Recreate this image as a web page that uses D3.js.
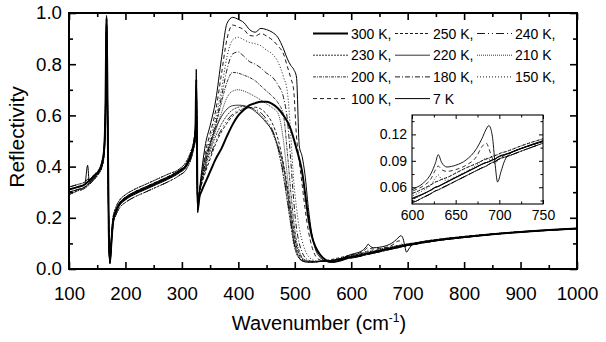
<!DOCTYPE html>
<html><head><meta charset="utf-8">
<script src="https://cdn.jsdelivr.net/npm/d3@7"></script>
<style>
html,body{margin:0;padding:0;background:#fff;}
svg{display:block;}
text{font-family:"Liberation Sans",Arial,Helvetica,sans-serif;fill:#000;}
</style></head>
<body><svg id="c" width="606" height="342"></svg>
<script>
// ---------- data ----------
const xLow = [100,115,128,133,136,145,152,158,162,164.5,166.5,168.5,170.5,172.5,175,178,183,190,200,215,235,255,275,295,308,316,321,324,325.5,328];
const lowA = [0.31,0.32,0.33,0.405,0.34,0.36,0.38,0.41,0.46,0.62,0.99,0.60,0.15,0.02,0.10,0.18,0.22,0.25,0.27,0.29,0.31,0.33,0.35,0.375,0.40,0.44,0.48,0.53,0.78,0.22];
const lowB = [0.30,0.31,0.32,0.33,0.335,0.355,0.375,0.40,0.45,0.60,0.96,0.58,0.14,0.03,0.11,0.19,0.23,0.26,0.28,0.30,0.32,0.34,0.36,0.385,0.41,0.45,0.49,0.55,0.70,0.25];
const lowC = [0.32,0.33,0.34,0.35,0.35,0.37,0.385,0.415,0.47,0.63,0.97,0.62,0.16,0.025,0.09,0.17,0.21,0.24,0.26,0.28,0.30,0.32,0.34,0.365,0.39,0.43,0.47,0.51,0.62,0.27];
const lowD = [0.29,0.305,0.315,0.325,0.33,0.35,0.37,0.395,0.44,0.58,0.93,0.56,0.13,0.03,0.12,0.20,0.24,0.27,0.29,0.31,0.33,0.35,0.37,0.39,0.42,0.46,0.50,0.56,0.66,0.24];
const lowE = [0.31,0.32,0.33,0.34,0.345,0.365,0.38,0.41,0.46,0.61,0.98,0.59,0.15,0.025,0.10,0.185,0.225,0.255,0.275,0.295,0.315,0.335,0.355,0.38,0.405,0.445,0.485,0.54,0.74,0.23];

const xHigh = [331,336,342,350,360,370,380,390,400,410,420,430,440,450,460,470,480,487,493,498,503,508,513,518,524,530,537,545,555,565,575,585,595];
const high7   = [0.30,0.40,0.49,0.56,0.66,0.82,0.96,0.983,0.975,0.962,0.935,0.925,0.94,0.935,0.925,0.905,0.86,0.82,0.795,0.78,0.75,0.48,0.44,0.37,0.24,0.14,0.075,0.045,0.03,0.026,0.03,0.042,0.053];
const high100 = [0.30,0.38,0.46,0.53,0.62,0.76,0.90,0.953,0.945,0.935,0.912,0.91,0.92,0.91,0.895,0.872,0.84,0.79,0.745,0.70,0.52,0.42,0.33,0.24,0.15,0.09,0.05,0.035,0.03,0.03,0.035,0.043,0.051];
const high150 = [0.30,0.37,0.44,0.51,0.59,0.70,0.83,0.895,0.905,0.895,0.885,0.88,0.872,0.855,0.84,0.81,0.75,0.69,0.52,0.35,0.24,0.16,0.11,0.075,0.05,0.038,0.032,0.03,0.03,0.032,0.036,0.042,0.048];
const high180 = [0.30,0.36,0.42,0.49,0.57,0.67,0.78,0.84,0.848,0.83,0.81,0.80,0.785,0.765,0.75,0.72,0.67,0.58,0.42,0.27,0.16,0.10,0.065,0.045,0.035,0.03,0.03,0.03,0.03,0.032,0.036,0.042,0.048];
const high200 = [0.30,0.36,0.42,0.48,0.56,0.65,0.73,0.768,0.765,0.757,0.748,0.735,0.715,0.695,0.675,0.65,0.60,0.45,0.30,0.19,0.11,0.07,0.045,0.035,0.03,0.028,0.028,0.03,0.031,0.033,0.037,0.042,0.047];
const high210 = [0.30,0.35,0.41,0.47,0.54,0.61,0.67,0.695,0.70,0.695,0.685,0.673,0.66,0.645,0.63,0.61,0.50,0.36,0.24,0.15,0.09,0.06,0.042,0.034,0.03,0.028,0.028,0.03,0.031,0.033,0.038,0.045,0.052];
const high220 = [0.30,0.38,0.44,0.49,0.55,0.595,0.625,0.638,0.64,0.638,0.63,0.615,0.595,0.57,0.54,0.48,0.40,0.30,0.20,0.12,0.07,0.045,0.032,0.028,0.026,0.026,0.027,0.029,0.031,0.033,0.036,0.040,0.044];
const high230 = [0.30,0.35,0.40,0.46,0.52,0.565,0.60,0.622,0.632,0.635,0.632,0.62,0.60,0.575,0.535,0.47,0.36,0.26,0.17,0.10,0.06,0.04,0.032,0.028,0.027,0.027,0.028,0.03,0.032,0.034,0.038,0.043,0.047];
const high240 = [0.30,0.34,0.39,0.44,0.50,0.545,0.58,0.605,0.62,0.628,0.63,0.625,0.61,0.585,0.545,0.48,0.37,0.27,0.18,0.11,0.065,0.042,0.033,0.029,0.027,0.027,0.028,0.03,0.032,0.034,0.037,0.040,0.043];
const high250 = [0.30,0.34,0.38,0.43,0.49,0.535,0.57,0.598,0.615,0.625,0.63,0.632,0.625,0.605,0.57,0.51,0.41,0.32,0.23,0.15,0.09,0.055,0.038,0.032,0.03,0.03,0.03,0.031,0.033,0.037,0.042,0.047,0.052];
const high300 = [0.28,0.31,0.34,0.38,0.43,0.47,0.52,0.565,0.60,0.622,0.64,0.648,0.653,0.653,0.645,0.628,0.60,0.575,0.545,0.51,0.47,0.43,0.38,0.30,0.20,0.13,0.085,0.055,0.035,0.028,0.03,0.036,0.044];

const xTail = [600,612,622,627,630,634,640,650,662,674,680,685,688,692,695,698,702,706,712,725,750,800,850,900,950,1000];
const tailBand   = [0.047,0.052,0.057,0.06,0.061,0.063,0.066,0.071,0.077,0.083,0.086,0.088,0.089,0.091,0.092,0.094,0.096,0.097,0.099,0.104,0.112,0.125,0.136,0.145,0.152,0.158];
const tailBandHi = [0.053,0.058,0.063,0.066,0.067,0.069,0.071,0.076,0.082,0.087,0.09,0.092,0.093,0.095,0.096,0.097,0.099,0.1,0.102,0.107,0.115,0.127,0.137,0.146,0.153,0.159];
const tailBandLo = [0.043,0.048,0.053,0.056,0.057,0.059,0.062,0.067,0.073,0.079,0.082,0.084,0.086,0.088,0.089,0.091,0.093,0.094,0.096,0.101,0.11,0.123,0.135,0.144,0.151,0.157];
const tail7   = [0.057,0.064,0.076,0.088,0.097,0.088,0.083,0.085,0.091,0.104,0.115,0.126,0.13,0.118,0.088,0.066,0.078,0.09,0.098,0.104,0.113,0.125,0.136,0.145,0.152,0.158];
const tail100 = [0.055,0.061,0.07,0.08,0.084,0.08,0.078,0.08,0.085,0.095,0.106,0.11,0.104,0.093,0.09,0.091,0.094,0.096,0.099,0.104,0.112,0.125,0.136,0.145,0.152,0.158];
const tail150 = [0.05,0.056,0.063,0.071,0.074,0.069,0.068,0.072,0.078,0.085,0.09,0.093,0.092,0.089,0.087,0.09,0.095,0.097,0.099,0.104,0.112,0.125,0.136,0.145,0.152,0.158];

const seriesNames = ["300 K","250 K","240 K","230 K","220 K","210 K","200 K","180 K","150 K","100 K","7 K"];
const seriesLow  = [lowE, lowB, lowC, lowD, lowB, lowC, lowD, lowE, lowC, lowB, lowA];
const seriesHigh = [high300, high250, high240, high230, high220, high210, high200, high180, high150, high100, high7];
const seriesTail = [tailBand, tailBandHi, tailBandLo, tailBand, tailBandLo, tailBandHi, tailBand, tailBandLo, tail150, tail100, tail7];
const legendLabels = ["300 K,","250 K,","240 K,","230 K,","220 K,","210 K","200 K,","180 K,","150 K,","100 K,","7 K"];

const xMajor = [100,200,300,400,500,600,700,800,900,1000];
const xMinor = [150,250,350,450,550,650,750,850,950];
const yMajor = [0.0,0.2,0.4,0.6,0.8,1.0];
const yMinor = [0.1,0.3,0.5,0.7,0.9];
const ixMajor = [600,650,700,750];
const ixMinor = [625,675,725];
const iyMajor = [0.06,0.09,0.12];
const iyMinor = [0.045,0.075,0.105,0.135];

// ---------- styles ----------
const styles = {
  "300 K":{w:2.0,dash:null},
  "250 K":{w:0.9,dash:"3,2"},
  "240 K":{w:0.9,dash:"8,3,1,3,1,3"},
  "230 K":{w:0.8,dash:"2,1"},
  "220 K":{w:0.8,dash:null},
  "210 K":{w:0.8,dash:"1,1"},
  "200 K":{w:0.8,dash:"3,1,1,1"},
  "180 K":{w:0.9,dash:"5,2,1,2"},
  "150 K":{w:0.9,dash:"1,2"},
  "100 K":{w:0.9,dash:"4,3"},
  "7 K":{w:1.0,dash:null}
};

const series = seriesNames.map((n,i)=>{
  const pts = [];
  xLow.forEach((xv,j)=>pts.push([xv, seriesLow[i][j]]));
  xHigh.forEach((xv,j)=>pts.push([xv, seriesHigh[i][j]]));
  xTail.forEach((xv,j)=>pts.push([xv, seriesTail[i][j]]));
  return {name:n, pts};
});

// ---------- chart ----------
const svg = d3.select("#c");
const L=69,R=577,T=13,B=269;
const x = d3.scaleLinear().domain([100,1000]).range([L,R]);
const y = d3.scaleLinear().domain([0,1]).range([B,T]);

svg.append("defs").append("clipPath").attr("id","clipMain")
  .append("rect").attr("x",L).attr("y",T).attr("width",R-L).attr("height",B-T);

const drawOrder = [10,9,8,7,6,5,4,3,2,1,0];
const gLines = svg.append("g").attr("clip-path","url(#clipMain)");
const line = d3.line().x(d=>x(d[0])).y(d=>y(d[1])).curve(d3.curveMonotoneX);
drawOrder.forEach(i=>{
  const s = series[i], st = styles[s.name];
  gLines.append("path").attr("d", line(s.pts)).attr("fill","none")
    .attr("stroke","#000").attr("stroke-width",st.w)
    .attr("stroke-dasharray",st.dash).attr("stroke-linejoin","round");
});

function axisStyle(g){ g.select(".domain").remove(); g.selectAll(".tick line").attr("stroke","#000").attr("stroke-width",1.6); }

svg.append("g").attr("transform",`translate(0,${B})`)
  .call(d3.axisBottom(x).tickValues(xMajor).tickSize(-7).tickPadding(18).tickFormat(d3.format("d")))
  .call(axisStyle).call(g=>g.selectAll("text").style("font-size","18.7px"));
svg.append("g").attr("transform",`translate(0,${B})`)
  .call(d3.axisBottom(x).tickValues(xMinor).tickSize(-4).tickFormat("")).call(axisStyle);
svg.append("g").attr("transform",`translate(0,${T})`)
  .call(d3.axisTop(x).tickValues(xMajor).tickSize(-7).tickFormat("")).call(axisStyle);
svg.append("g").attr("transform",`translate(0,${T})`)
  .call(d3.axisTop(x).tickValues(xMinor).tickSize(-4).tickFormat("")).call(axisStyle);
svg.append("g").attr("transform",`translate(${L},0)`)
  .call(d3.axisLeft(y).tickValues(yMajor).tickSize(-7).tickPadding(7).tickFormat(d3.format(".1f")))
  .call(axisStyle).call(g=>g.selectAll("text").style("font-size","18.7px"));
svg.append("g").attr("transform",`translate(${L},0)`)
  .call(d3.axisLeft(y).tickValues(yMinor).tickSize(-4).tickFormat("")).call(axisStyle);
svg.append("g").attr("transform",`translate(${R},0)`)
  .call(d3.axisRight(y).tickValues(yMajor).tickSize(-7).tickFormat("")).call(axisStyle);
svg.append("g").attr("transform",`translate(${R},0)`)
  .call(d3.axisRight(y).tickValues(yMinor).tickSize(-4).tickFormat("")).call(axisStyle);

svg.append("rect").attr("x",L).attr("y",T).attr("width",R-L).attr("height",B-T)
  .attr("fill","none").attr("stroke","#000").attr("stroke-width",2);

// axis titles
const xt = svg.append("text").attr("x",(L+R)/2 - 4).attr("y",330).attr("text-anchor","middle").style("font-size","20px");
xt.append("tspan").text("Wavenumber (cm");
xt.append("tspan").attr("dy",-8).style("font-size","12px").text("-1");
xt.append("tspan").attr("dy",8).text(")");
svg.append("text").attr("transform","translate(24,137) rotate(-90)").attr("text-anchor","middle")
  .style("font-size","21px").text("Reflectivity");

// ---------- legend ----------
const legCols = [313,395,477];
const legRows = [33.5,55.2,76.9,98.6];
const lg = svg.append("g");
seriesNames.forEach((n,i)=>{
  const c = i%3, r = Math.floor(i/3);
  const st = styles[n];
  const lx = legCols[c], ly = legRows[r];
  lg.append("line").attr("x1",lx).attr("x2",lx+35).attr("y1",ly).attr("y2",ly)
    .attr("stroke","#000").attr("stroke-width",st.w).attr("stroke-dasharray",st.dash);
  lg.append("text").attr("x",lx+38).attr("y",ly).attr("dy","0.36em").style("font-size","14px").text(legendLabels[i]);
});

// ---------- inset ----------
const IL=412, IR=543, IT=115, IB=204;
const ix = d3.scaleLinear().domain([600,750]).range([IL,IR]);
const iy = d3.scaleLinear().domain([0.041,0.142]).range([IB,IT]);
svg.append("rect").attr("x",IL).attr("y",IT).attr("width",IR-IL).attr("height",IB-IT).attr("fill","#fff");
svg.select("defs").append("clipPath").attr("id","clipInset")
  .append("rect").attr("x",IL).attr("y",IT).attr("width",IR-IL).attr("height",IB-IT);
const gi = svg.append("g").attr("clip-path","url(#clipInset)");
const iline = d3.line().x(d=>ix(d[0])).y(d=>iy(d[1])).curve(d3.curveMonotoneX);
drawOrder.forEach(i=>{
  const s = series[i], st = styles[s.name];
  const pts = s.pts.filter(d=>d[0]>=590 && d[0]<=760);
  gi.append("path").attr("d", iline(pts)).attr("fill","none")
    .attr("stroke","#000").attr("stroke-width",Math.min(st.w,1.2)*0.9)
    .attr("stroke-dasharray",st.dash);
});
function iAxisStyle(g){ g.select(".domain").remove(); g.selectAll(".tick line").attr("stroke","#000").attr("stroke-width",1); }
svg.append("g").attr("transform",`translate(0,${IB})`)
  .call(d3.axisBottom(ix).tickValues(ixMajor).tickSize(-4).tickPadding(6).tickFormat(d3.format("d")))
  .call(iAxisStyle).call(g=>g.selectAll("text").style("font-size","14px"));
svg.append("g").attr("transform",`translate(0,${IB})`)
  .call(d3.axisBottom(ix).tickValues(ixMinor).tickSize(-2.5).tickFormat("")).call(iAxisStyle);
svg.append("g").attr("transform",`translate(0,${IT})`)
  .call(d3.axisTop(ix).tickValues(ixMajor).tickSize(-4).tickFormat("")).call(iAxisStyle);
svg.append("g").attr("transform",`translate(0,${IT})`)
  .call(d3.axisTop(ix).tickValues(ixMinor).tickSize(-2.5).tickFormat("")).call(iAxisStyle);
svg.append("g").attr("transform",`translate(${IL},0)`)
  .call(d3.axisLeft(iy).tickValues(iyMajor).tickSize(-4).tickPadding(5).tickFormat(d3.format(".2f")))
  .call(iAxisStyle).call(g=>g.selectAll("text").style("font-size","14px"));
svg.append("g").attr("transform",`translate(${IL},0)`)
  .call(d3.axisLeft(iy).tickValues(iyMinor).tickSize(-2.5).tickFormat("")).call(iAxisStyle);
svg.append("g").attr("transform",`translate(${IR},0)`)
  .call(d3.axisRight(iy).tickValues(iyMajor).tickSize(-4).tickFormat("")).call(iAxisStyle);
svg.append("g").attr("transform",`translate(${IR},0)`)
  .call(d3.axisRight(iy).tickValues(iyMinor).tickSize(-2.5).tickFormat("")).call(iAxisStyle);
svg.append("rect").attr("x",IL).attr("y",IT).attr("width",IR-IL).attr("height",IB-IT)
  .attr("fill","none").attr("stroke","#000").attr("stroke-width",1.1);
</script></body></html>
